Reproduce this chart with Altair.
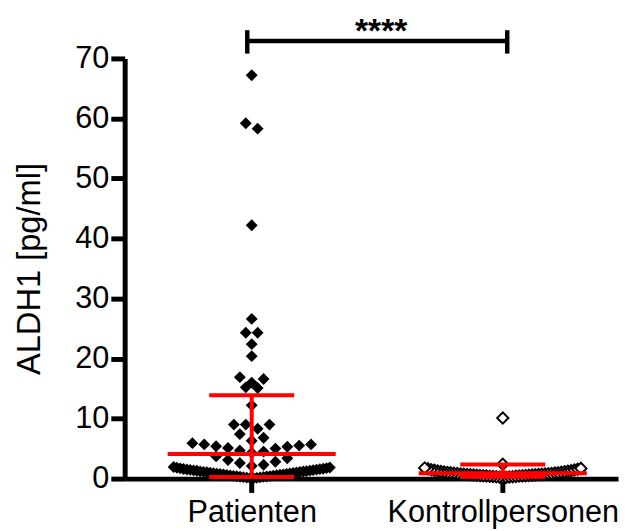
import altair as alt
import pandas as pd

# ---------------- data ----------------
GROUPS = ["Patienten", "Kontrollpersonen"]

PATIENTEN = [
    67.2, 59.2, 58.3, 42.2, 26.6, 24.3, 24.3, 22.4, 20.4, 16.9, 16.6, 16.0,
    15.2, 15.1, 12.2, 9.0, 9.0, 9.0, 8.3, 7.4, 6.8, 6.3, 5.9, 5.7, 5.7, 5.5,
    5.4, 5.3, 5.1, 5.0, 4.7, 4.5, 4.3,
    3.7, 3.4, 3.1, 2.8, 2.6, 2.3, 2.1,
    1.93, 1.86, 1.81, 1.74, 1.7, 1.65, 1.61, 1.57, 1.52, 1.49, 1.45, 1.41,
    1.37, 1.33, 1.3, 1.25, 1.21, 1.18, 1.13, 1.1, 1.06, 1.02, 0.99, 0.94,
    0.9, 0.87, 0.83, 0.79, 0.76, 0.71, 0.68, 0.64, 0.6, 0.57, 0.53, 0.5,
    0.46, 0.42, 0.39, 0.35, 0.31, 0.28, 0.24, 0.2, 0.17, 0.13, 0.09, 0.06,
]

KONTROLLEN = [
    10.1, 2.4,
    1.78, 1.7, 1.62, 1.55, 1.48, 1.42, 1.37, 1.32, 1.27, 1.22, 1.18, 1.14,
    1.1, 1.06, 1.02, 0.98, 0.95, 0.92, 0.89, 0.86, 0.83, 0.8, 0.78, 0.75,
    0.72, 0.7, 0.68, 0.66, 0.64, 0.62, 0.6, 0.58, 0.56, 0.54, 0.52, 0.5,
    0.48, 0.46, 0.44, 0.42, 0.4, 0.37, 0.35, 0.32, 0.3, 0.27, 0.24, 0.2, 0.15,
]

CENTER = [4.1, 0.9]     # centre line of each group
UPPER = [13.9, 2.35]    # upper whisker
LOWER = [0.28, 0.3]     # lower whisker

Y_TICKS = [0, 10, 20, 30, 40, 50, 60, 70]
SIG_LABEL = "****"

# ---------------- layout ----------------
PLOT_W, PLOT_H = 499, 425
X_DOMAIN = [-0.506, 1.459]
Y_DOMAIN = [0, 70]
PX_X = PLOT_W / (X_DOMAIN[1] - X_DOMAIN[0])
PX_Y = PLOT_H / (Y_DOMAIN[1] - Y_DOMAIN[0])
SYM = 12.0          # symbol width in px
HALF_W = 79.0       # max half width of a scatter row in px

SIG_Y, SIG_CAP_LO, SIG_CAP_HI = 72.9, 70.8, 74.7
FONT = "Liberation Sans"


def column_scatter(values):
    """Prism-like column scatter: bin in rows of symbol height,
    spread each row centre-out in ascending order."""
    rows = {}
    for v in values:
        rows.setdefault(int(v * PX_Y // SYM), []).append(v)
    out = []
    for r in sorted(rows):
        vs = sorted(rows[r])
        n = len(vs)
        s = SYM if (n - 1) * SYM <= 2 * HALF_W else 2 * HALF_W / (n - 1)
        for i, v in enumerate(vs):
            if n % 2 == 1:
                k = (i + 1) // 2
                off = 0 if i == 0 else (k * s if i % 2 == 1 else -k * s)
            else:
                k = i // 2
                off = (k + 0.5) * s * (1 if i % 2 == 0 else -1)
            out.append((v, off))
    return out


rows = []
for gi, vals in enumerate([PATIENTEN, KONTROLLEN]):
    for v, off in column_scatter(vals):
        rows.append({"group": GROUPS[gi], "gi": gi, "value": v, "x": gi + off / PX_X})
pts = pd.DataFrame(rows)

stats = pd.DataFrame({"group": GROUPS, "gi": [0, 1], "center": CENTER,
                      "upper": UPPER, "lower": LOWER})
sig = pd.DataFrame({"x1": [0], "x2": [1], "y": [SIG_Y], "lo": [SIG_CAP_LO],
                    "hi": [SIG_CAP_HI], "label": [SIG_LABEL], "mid": [0.5]})

label_expr = "[" + ",".join(f"'{g}'" for g in GROUPS) + "][round(datum.value)]"

xscale = alt.Scale(domain=X_DOMAIN, nice=False, zero=False)
yscale = alt.Scale(domain=Y_DOMAIN, nice=False, zero=False)

xaxis = alt.Axis(values=[0, 1], labelExpr=label_expr, title=None, grid=False,
                 domainColor="black", domainWidth=5, tickColor="black", tickWidth=5,
                 tickSize=14, labelFont=FONT, labelFontSize=31, labelColor="black",
                 labelPadding=5, labelFlush=False, labelOverlap=False, labelLimit=0)
yaxis = alt.Axis(values=Y_TICKS, title="ALDH1 [pg/ml]", grid=False,
                 domainColor="black", domainWidth=5, tickColor="black", tickWidth=5,
                 tickSize=14, labelFont=FONT, labelFontSize=31, labelColor="black",
                 labelPadding=2, labelLimit=0, titleFont=FONT, titleFontSize=33,
                 titleFontWeight="normal", titleColor="black", titleAngle=270,
                 titleX=-86, titleY=PLOT_H / 2, titleAlign="center",
                 titleBaseline="alphabetic", titleLimit=0)

X = alt.X("x:Q", scale=xscale, axis=xaxis)
Y = alt.Y("value:Q", scale=yscale, axis=yaxis)

base_pts = alt.Chart(pts)
pat = base_pts.transform_filter(alt.datum.gi == 0).mark_point(
    shape="diamond", filled=True, size=144, color="black", opacity=1
).encode(x=X, y=Y)
kon = base_pts.transform_filter(alt.datum.gi == 1).mark_point(
    shape="diamond", filled=True, size=130, fill="white", stroke="black",
    strokeWidth=2, opacity=1, fillOpacity=1, strokeOpacity=1
).encode(x=alt.X("x:Q", scale=xscale), y=alt.Y("value:Q", scale=yscale))

RED = "#ff0000"
sb = alt.Chart(stats)
gx = alt.X("gi:Q", scale=xscale)
center_line = sb.mark_rule(color=RED, strokeWidth=4, xOffset=-85, x2Offset=85).encode(
    x=gx, x2="gi:Q", y=alt.Y("center:Q", scale=yscale))
upper_cap = sb.mark_rule(color=RED, strokeWidth=4, xOffset=-43, x2Offset=43).encode(
    x=gx, x2="gi:Q", y=alt.Y("upper:Q", scale=yscale))
lower_cap = sb.mark_rule(color=RED, strokeWidth=4, xOffset=-43, x2Offset=43).encode(
    x=gx, x2="gi:Q", y=alt.Y("lower:Q", scale=yscale))
whisker = sb.mark_rule(color=RED, strokeWidth=4).encode(
    x=gx, y=alt.Y("lower:Q", scale=yscale), y2="upper:Q")

sc = alt.Chart(sig)
sig_bar = sc.mark_rule(color="black", strokeWidth=4.5, xOffset=-4.5, x2Offset=4.5).encode(
    x=alt.X("x1:Q", scale=xscale), x2="x2:Q", y=alt.Y("y:Q", scale=yscale))
sig_l = sc.mark_rule(color="black", strokeWidth=4.5, xOffset=-4.5).encode(
    x=alt.X("x1:Q", scale=xscale), y=alt.Y("lo:Q", scale=yscale), y2="hi:Q")
sig_r = sc.mark_rule(color="black", strokeWidth=4.5, xOffset=4.5).encode(
    x=alt.X("x2:Q", scale=xscale), y=alt.Y("lo:Q", scale=yscale), y2="hi:Q")
sig_t = sc.mark_text(font=FONT, fontSize=34, fontWeight="bold", color="black",
                     align="center", baseline="alphabetic", dy=1, dx=4).encode(
    x=alt.X("mid:Q", scale=xscale), y=alt.Y("y:Q", scale=yscale), text="label:N")

chart = alt.layer(
    pat, kon, center_line, whisker, upper_cap, lower_cap, sig_bar, sig_l, sig_r, sig_t
).properties(
    width=PLOT_W, height=PLOT_H,
    autosize=alt.AutoSizeParams(type="none"),
    padding={"left": 118, "top": 48, "right": 2, "bottom": 50},
    background="white",
).configure_view(stroke=None)

chart.save("out.html", embed_options={"renderer": "svg", "actions": False})
